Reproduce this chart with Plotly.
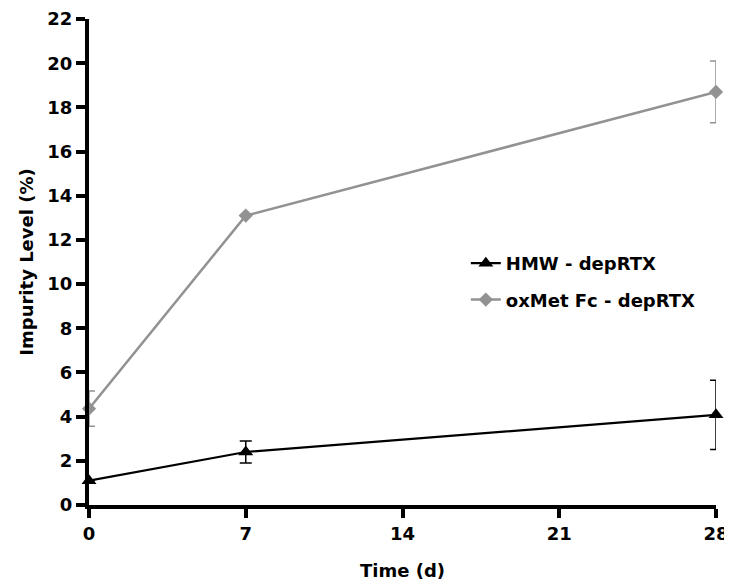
import plotly.graph_objects as go

# data
days = [0, 7, 28]
hmw_mean = [1.1, 2.4, 4.08]
hmw_err = [0.0, 0.5, 1.57]
oxmet_mean = [4.36, 13.1, 18.7]
oxmet_err = [0.8, 0.0, 1.4]

x_ticks = [0, 7, 14, 21, 28]
y_ticks = list(range(0, 23, 2))

FONT = "DejaVu Sans, Liberation Sans, Arial, sans-serif"
GREY = "#929292"
txt = dict(family=FONT, size=18, color="black", weight="bold")

fig = go.Figure()

fig.add_trace(go.Scatter(
    x=days, y=hmw_mean, name="HMW - depRTX", legendgroup="hmw",
    mode="lines+markers",
    line=dict(color="black", width=2.2),
    marker=dict(symbol="triangle-up", size=13, color="black"),
    error_y=dict(type="data", array=hmw_err, color="black", thickness=1.5, width=6),
    cliponaxis=False,
))

fig.add_trace(go.Scatter(
    x=days, y=oxmet_mean, name="oxMet Fc - depRTX", legendgroup="ox",
    mode="lines+markers",
    line=dict(color=GREY, width=2.5),
    marker=dict(symbol="diamond", size=11, color=GREY),
    error_y=dict(type="data", array=oxmet_err, color=GREY, thickness=1.5, width=6),
    cliponaxis=False,
))

axis_common = dict(
    showgrid=False, zeroline=False, automargin=False,
    showline=True, linecolor="black", linewidth=4,
    ticks="outside", ticklen=9, tickwidth=4, tickcolor="black",
    tickfont=txt, ticklabeloverflow="allow",
)

fig.update_xaxes(
    range=[0, 28], tickvals=x_ticks,
    title=dict(text="Time (d)", font=txt, standoff=23),
    **axis_common,
)
fig.update_yaxes(
    range=[0, 22.001], tickvals=y_ticks,
    title=dict(text="Impurity Level (%)", font=txt, standoff=10),
    **axis_common,
)

# the page body adds an 8px offset, so the figure is a bit smaller than the window
fig.update_layout(
    width=724, height=578,
    margin=dict(l=81, r=16, t=11, b=81),
    plot_bgcolor="white", paper_bgcolor="white",
    legend=dict(
        x=0.601, y=0.535, xanchor="left", yanchor="top",
        font=txt, bgcolor="rgba(0,0,0,0)", tracegroupgap=10,
    ),
)

fig.write_html("out.html")
